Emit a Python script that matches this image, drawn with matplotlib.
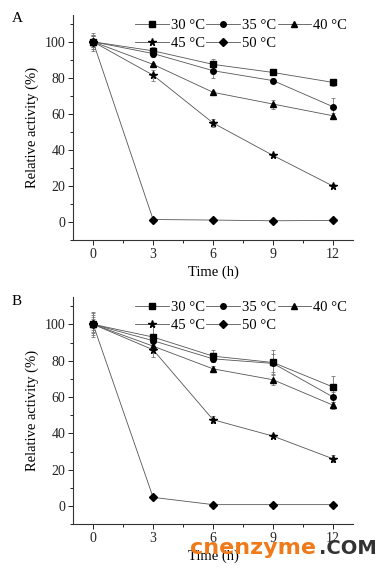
import numpy as np
import matplotlib
matplotlib.use("Agg")
import matplotlib.pyplot as plt

plt.rcParams['font.family'] = ['Liberation Serif', 'DejaVu Serif']

# Sampling times (h)
time = [0, 3, 6, 9, 12]
labels = ["30 °C", "35 °C", "40 °C", "45 °C", "50 °C"]
markers = ["s", "o", "^", "*", "D"]

# Panel A: relative activity (%) and error bars
a_30 = [100, 95, 87.5, 83, 77.5]
a_35 = [100, 93.5, 84, 78.5, 64]
a_40 = [100, 87.5, 72, 65.5, 59]
a_45 = [100, 81.5, 55, 37, 20]
a_50 = [100, 1.5, 1.2, 0.8, 1.0]
a_30_err = [3, 2, 3, 1, 2]
a_35_err = [4, 2, 4, 1.5, 5]
a_40_err = [3, 1, 1, 2.5, 1.5]
a_45_err = [5, 3, 2, 1, 1]
a_50_err = [4, 1, 0.5, 0.5, 0.5]

# Panel B
b_30 = [100, 93, 82.5, 79, 65.5]
b_35 = [100, 91, 81, 78.5, 60]
b_40 = [100, 88, 75.5, 69.5, 55.5]
b_45 = [100, 86, 47.5, 38.5, 26]
b_50 = [100, 4.8, 0.8, 0.8, 0.8]
b_30_err = [7, 6, 3.5, 7, 6]
b_35_err = [5, 3, 2, 5, 3]
b_40_err = [4, 2, 1.5, 3, 2]
b_45_err = [6, 4, 2, 1, 2]
b_50_err = [3, 1, 0.5, 0.5, 0.5]

panels = [
    ("A", [a_30, a_35, a_40, a_45, a_50], [a_30_err, a_35_err, a_40_err, a_45_err, a_50_err]),
    ("B", [b_30, b_35, b_40, b_45, b_50], [b_30_err, b_35_err, b_40_err, b_45_err, b_50_err]),
]
rects = [[0.187, 0.577, 0.716, 0.397], [0.187, 0.077, 0.716, 0.400]]

fig = plt.figure(figsize=(3.91, 5.68), dpi=100)

for (tag, series, errs), rect in zip(panels, rects):
    ax = fig.add_axes(rect)
    handles = []
    for y, e, lab, m in zip(series, errs, labels, markers):
        ms = 5.5 if m == "*" else (3.6 if m == "D" else 4)
        c = ax.errorbar(time, y, yerr=e, color="#555555", lw=0.6, marker=m, ms=ms,
                        mfc="black", mec="black", ecolor="#777777", elinewidth=0.6,
                        capsize=1.5, capthick=0.6)
        handles.append(c[0])
    ax.set_xlim(-1, 13)
    ax.set_ylim(-10, 115)
    ax.set_xticks([0, 3, 6, 9, 12])
    ax.set_xticks([1.5, 4.5, 7.5, 10.5], minor=True)
    ax.set_yticks([0, 20, 40, 60, 80, 100])
    ax.set_yticks([-10, 10, 30, 50, 70, 90, 110], minor=True)
    ax.spines['top'].set_visible(False)
    ax.spines['right'].set_visible(False)
    for s in ax.spines.values():
        s.set_linewidth(0.8)
        s.set_color("#333333")
    ax.tick_params(which='major', direction='out', length=3.5, width=0.7, labelsize=10,
                   pad=2, colors="#222222")
    ax.tick_params(which='minor', direction='out', length=2, width=0.6)
    ax.set_xlabel("Time (h)", fontsize=10.5, labelpad=3)
    ax.set_ylabel("Relative activity (%)", fontsize=10.5, labelpad=4)
    # row-major legend order: 30 35 40 / 45 50
    order = [0, 3, 1, 4, 2]
    ax.legend([handles[i] for i in order], [labels[i] for i in order],
              ncol=3, loc="upper right", bbox_to_anchor=(1.01, 1.02), frameon=False,
              fontsize=10.5, handlelength=2.3, handletextpad=0.15, columnspacing=0.1,
              labelspacing=0.3, borderaxespad=0.2)
    fig.text(0.03, rect[1] + rect[3] + 0.004, tag, fontsize=11, va="top")

# site watermark
fig.text(0.485, 0.024, "cnenzyme", fontsize=16, fontweight="bold", color="#f07a1a",
         family="DejaVu Sans")
fig.text(0.815, 0.024, ".COM", fontsize=14, fontweight="bold", color="#333333",
         family="DejaVu Sans")

fig.savefig("out.png", dpi=100)
